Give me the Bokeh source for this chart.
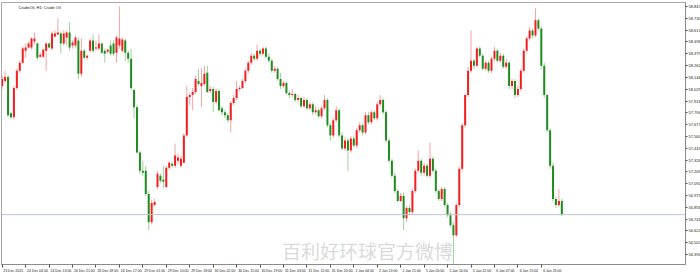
from bokeh.plotting import figure
from bokeh.models import Range1d, FixedTicker, LinearAxis, Span, Label, PrintfTickFormatter
from bokeh.embed import file_html
from bokeh.resources import INLINE

# ---------------- data (CrudeOil H1) ----------------
open_ = [58.06, 58.11, 58.15, 57.79, 57.75, 58.04, 58.21, 58.29, 58.41, 58.44,
         58.44, 58.50, 58.48, 58.35, 58.35, 58.41, 58.48, 58.43, 58.55, 58.57,
         58.58, 58.48, 58.54, 58.59, 58.46, 58.46, 58.51, 58.18, 58.41, 58.34,
         58.41, 58.51, 58.43, 58.43, 58.48, 58.41, 58.40, 58.46, 58.48, 58.39,
         58.46, 58.41, 58.51, 58.39, 58.33, 58.02, 57.85, 57.40, 57.22, 57.22,
         56.99, 56.71, 56.88, 57.06, 57.17, 57.13, 57.06, 57.25, 57.29, 57.27,
         57.32, 57.27, 57.30, 57.57, 57.95, 57.97, 58.00, 58.11, 58.06, 58.08,
         58.19, 58.01, 58.03, 57.90, 58.01, 57.84, 57.80, 57.77, 57.72, 57.89,
         57.94, 58.03,
         58.04, 58.11, 58.21, 58.29, 58.36, 58.33, 58.41, 58.38, 58.43, 58.35,
         58.31, 58.21, 58.23, 58.13, 58.06, 58.09, 57.99, 57.97, 57.98, 57.92,
         57.94, 57.86, 57.92, 57.84, 57.88, 57.80, 57.82, 57.76, 57.84, 57.92,
         57.67, 57.57, 57.72, 57.82, 57.57, 57.44, 57.52, 57.42, 57.54, 57.47,
         57.62, 57.67, 57.60, 57.77, 57.70, 57.80, 57.74, 57.88, 57.92, 57.80,
         57.52, 57.32, 57.17, 57.02, 56.92, 56.97, 56.75, 56.85, 56.81, 57.02,
         57.22, 57.32, 57.20, 57.27, 57.17, 57.34, 57.22, 57.02, 56.94, 57.04,
         56.88, 56.78, 56.68, 56.58, 56.88, 57.24, 57.67, 57.97, 58.21, 58.31,
         58.26, 58.43, 58.36, 58.23, 58.29, 58.21, 58.33, 58.41, 58.31, 58.36,
         58.25, 58.29, 58.06, 58.11, 57.97, 58.03, 58.21, 58.41, 58.53, 58.61,
         58.56, 58.71, 58.63, 58.26, 57.97, 57.62, 57.27, 56.94, 56.88, 56.92]

high = [58.16, 58.21, 58.17, 57.80, 58.06, 58.23, 58.31, 58.45, 58.48, 58.50,
        58.54, 58.59, 58.49, 58.39, 58.43, 58.49, 58.49, 58.60, 58.61, 58.73,
        58.60, 58.61, 58.61, 58.69, 58.51, 58.56, 58.54, 58.53, 58.43, 58.37,
        58.53, 58.57, 58.51, 58.57, 58.49, 58.43, 58.43, 58.51, 58.51, 58.56,
        58.85, 58.54, 58.53, 58.41, 58.43, 58.03, 57.87, 57.42, 57.32, 57.27,
        57.02, 56.93, 56.94, 57.22, 57.19, 57.27, 57.27, 57.32, 57.31, 57.49,
        57.39, 57.37, 57.59, 58.06, 57.99, 58.04, 58.16, 58.23, 58.24, 58.26,
        58.26, 58.06, 58.05, 58.03, 58.03, 57.86, 57.82, 57.79, 57.91, 57.97,
        58.11, 58.06,
        58.13, 58.23, 58.31, 58.39, 58.38, 58.47, 58.43, 58.45, 58.45, 58.38,
        58.33, 58.26, 58.25, 58.19, 58.11, 58.11, 58.01, 58.03, 57.99, 57.97,
        57.95, 57.95, 57.94, 57.90, 57.90, 57.86, 57.84, 57.86, 57.97, 57.94,
        57.69, 57.74, 57.86, 57.84, 57.60, 57.55, 57.54, 57.56, 57.57, 57.64,
        57.70, 57.69, 57.80, 57.80, 57.82, 57.82, 57.90, 57.97, 57.94, 57.82,
        57.54, 57.34, 57.20, 57.04, 57.00, 57.00, 56.87, 56.88, 57.04, 57.24,
        57.42, 57.34, 57.30, 57.29, 57.50, 57.36, 57.24, 57.04, 57.06, 57.06,
        56.90, 56.81, 56.71, 56.90, 57.26, 57.69, 57.98, 58.25, 58.61, 58.33,
        58.45, 58.45, 58.38, 58.31, 58.31, 58.35, 58.45, 58.43, 58.39, 58.38,
        58.33, 58.31, 58.13, 58.13, 58.06, 58.23, 58.43, 58.55, 58.65, 58.63,
        58.83, 58.73, 58.65, 58.29, 57.98, 57.64, 57.30, 56.96, 57.04, 56.94]

low = [58.03, 58.09, 57.75, 57.73, 57.73, 58.02, 58.19, 58.28, 58.34, 58.43,
       58.42, 58.47, 58.32, 58.34, 58.34, 58.21, 58.43, 58.41, 58.54, 58.56,
       58.38, 58.46, 58.46, 58.41, 58.43, 58.44, 58.13, 58.15, 58.32, 58.32,
       58.39, 58.39, 58.41, 58.41, 58.38, 58.29, 58.38, 58.36, 58.36, 58.29,
       58.43, 58.39, 58.31, 58.29, 58.02, 57.74, 57.39, 57.19, 57.17, 56.97,
       56.63, 56.69, 56.87, 57.04, 57.10, 57.05, 57.05, 57.23, 57.25, 57.25,
       57.29, 57.25, 57.29, 57.56, 57.87, 57.82, 57.98, 58.06, 57.85, 58.06,
       57.99, 57.99, 57.80, 57.88, 57.81, 57.77, 57.74, 57.70, 57.60, 57.87,
       57.92, 58.01,
       58.03, 58.09, 58.19, 58.27, 58.31, 58.31, 58.35, 58.36, 58.33, 58.29,
       58.19, 58.19, 58.11, 58.03, 58.04, 57.97, 57.94, 57.95, 57.90, 57.90,
       57.84, 57.84, 57.82, 57.82, 57.77, 57.78, 57.74, 57.74, 57.82, 57.65,
       57.52, 57.55, 57.70, 57.55, 57.42, 57.42, 57.22, 57.40, 57.45, 57.45,
       57.60, 57.57, 57.58, 57.68, 57.68, 57.72, 57.72, 57.86, 57.78, 57.50,
       57.30, 57.15, 57.00, 56.91, 56.91, 56.63, 56.71, 56.78, 56.79, 57.00,
       57.20, 57.17, 57.17, 57.15, 57.15, 57.20, 57.00, 56.92, 56.92, 56.86,
       56.76, 56.66, 56.28, 56.56, 56.86, 57.22, 57.65, 57.95, 58.19, 58.23,
       58.25, 58.34, 58.21, 58.21, 58.19, 58.19, 58.31, 58.29, 58.29, 58.23,
       58.23, 58.03, 58.03, 57.94, 57.95, 58.01, 58.19, 58.39, 58.51, 58.53,
       58.54, 58.61, 58.23, 57.94, 57.60, 57.24, 56.92, 56.85, 56.86, 56.77]

close = [58.13, 58.15, 57.77, 57.75, 58.04, 58.21, 58.29, 58.43, 58.44, 58.48,
         58.53, 58.53, 58.34, 58.37, 58.42, 58.48, 58.44, 58.58, 58.58, 58.59,
         58.48, 58.58, 58.59, 58.44, 58.49, 58.54, 58.18, 58.41, 58.34, 58.36,
         58.51, 58.41, 58.44, 58.48, 58.39, 58.38, 58.42, 58.38, 58.38, 58.54,
         58.53, 58.52, 58.39, 58.33, 58.04, 57.85, 57.40, 57.22, 57.20, 56.99,
         56.71, 56.90, 56.91, 57.19, 57.12, 57.11, 57.25, 57.30, 57.27, 57.37,
         57.35, 57.34, 57.57, 57.95, 57.97, 58.00, 58.13, 58.08, 58.09, 58.18,
         58.00, 58.03, 57.90, 58.01, 57.82, 57.80, 57.77, 57.72, 57.89, 57.94,
         58.03, 58.04,
         58.11, 58.21, 58.29, 58.36, 58.33, 58.41, 58.38, 58.43, 58.35, 58.31,
         58.21, 58.23, 58.13, 58.06, 58.09, 57.99, 57.97, 57.98, 57.92, 57.94,
         57.86, 57.92, 57.84, 57.88, 57.80, 57.82, 57.76, 57.84, 57.92, 57.67,
         57.57, 57.72, 57.82, 57.57, 57.44, 57.52, 57.42, 57.54, 57.47, 57.62,
         57.67, 57.60, 57.77, 57.70, 57.80, 57.74, 57.88, 57.92, 57.80, 57.52,
         57.32, 57.17, 57.02, 56.92, 56.97, 56.75, 56.85, 56.81, 57.02, 57.22,
         57.32, 57.20, 57.27, 57.17, 57.34, 57.22, 57.02, 56.94, 57.04, 56.88,
         56.78, 56.68, 56.58, 56.88, 57.24, 57.67, 57.97, 58.21, 58.31, 58.26,
         58.43, 58.36, 58.23, 58.29, 58.21, 58.33, 58.41, 58.31, 58.36, 58.25,
         58.29, 58.06, 58.11, 57.97, 58.03, 58.21, 58.41, 58.53, 58.61, 58.56,
         58.71, 58.63, 58.26, 57.97, 57.62, 57.27, 56.94, 56.88, 56.92, 56.79]

time_labels = ["23 Dec 2025", "24 Dec 04:00", "24 Dec 13:00", "24 Dec 21:00",
               "26 Dec 09:00", "26 Dec 17:00", "29 Dec 01:00", "29 Dec 10:00",
               "29 Dec 18:00", "30 Dec 02:00", "30 Dec 11:00", "30 Dec 19:00",
               "31 Dec 03:00", "31 Dec 12:00", "31 Dec 20:00", "2 Jan 04:00",
               "2 Jan 13:00", "2 Jan 21:00", "5 Jan 05:00", "5 Jan 14:00",
               "5 Jan 22:00", "6 Jan 07:00", "6 Jan 15:00", "6 Jan 23:00"]
time_label_bars = [0, 8, 16, 24, 32, 40, 48, 56, 64, 72, 80, 88,
                   96, 104, 112, 120, 128, 136, 144, 152, 160, 168, 176, 184]

price_ticks = [58.847, 58.730, 58.613, 58.496, 58.379, 58.262, 58.146, 58.029,
               57.911, 57.794, 57.677, 57.560, 57.443, 57.326, 57.209, 57.092,
               56.975, 56.858, 56.741, 56.624, 56.507, 56.390]
current_price = 56.785
chart_title = "CrudeOil, H1: Crude Oil"
watermark_text = "百利好环球官方微博"

# ---------------- styling ----------------
UP_BODY, DN_BODY = "#f51d1d", "#1f8c1f"
UP_WICK, DN_WICK = "#f7a3a3", "#9fd09f"
PX_PER_BAR = 2.93
FRAME_W, FRAME_H = 684, 262

n = len(close)
idx = list(range(n))
is_up = [c >= o for o, c in zip(open_, close)]
tops = [max(o, c) for o, c in zip(open_, close)]
bots = [min(o, c) for o, c in zip(open_, close)]
body_col = [UP_BODY if u else DN_BODY for u in is_up]
wick_col = [UP_WICK if u else DN_WICK for u in is_up]

x_start = -0.24
x_end = x_start + FRAME_W / PX_PER_BAR
y_lo, y_hi = 56.291, 58.887

p = figure(frame_width=FRAME_W, frame_height=FRAME_H,
           output_backend="svg", toolbar_location=None,
           x_range=Range1d(x_start, x_end), y_range=Range1d(y_lo, y_hi),
           x_axis_location=None, y_axis_location=None,
           min_border_left=1, min_border_right=15, min_border_top=2, min_border_bottom=10,
           background_fill_color="white", border_fill_color="white")
p.grid.visible = False
p.outline_line_color = "#a8a8a8"
p.outline_line_width = 1

# watermark (behind candles)
p.add_layout(Label(x=95.5, y=y_lo, y_offset=1, text=watermark_text,
                   text_font="Noto Sans CJK SC", text_font_size="19px",
                   text_color="#cfcfcf", text_alpha=0.8, text_baseline="bottom",
                   text_align="left", level="underlay"))

p.segment(x0=idx, y0=low, x1=idx, y1=high, line_color=wick_col, line_width=1)
p.vbar(x=idx, width=0.68, top=tops, bottom=bots, fill_color=body_col, line_color=None)

p.add_layout(Span(location=current_price, dimension="width",
                  line_color="#b9c3d1", line_width=1))

# right price axis
yax = LinearAxis(ticker=FixedTicker(ticks=price_ticks, minor_ticks=[]),
                 formatter=PrintfTickFormatter(format="%.3f"))
yax.axis_line_color = "#8c8c8c"
yax.major_tick_out = 2
yax.major_tick_in = 0
yax.major_tick_line_color = "#555555"
yax.minor_tick_out = 0
yax.major_label_standoff = 1
yax.major_label_text_font = "Liberation Sans"
yax.major_label_text_font_size = "4px"
yax.major_label_text_color = "#222222"
p.add_layout(yax, "right")

# bottom time axis: labels start right of their tick, as in MT4
centers = [b + (1.5 + 0.86 * len(t)) / PX_PER_BAR for b, t in zip(time_label_bars, time_labels)]
xax = LinearAxis(ticker=FixedTicker(ticks=centers, minor_ticks=time_label_bars))
xax.major_label_overrides = {c: t for c, t in zip(centers, time_labels)}
xax.axis_line_color = "#8c8c8c"
xax.major_tick_out = 0
xax.major_tick_in = 0
xax.minor_tick_out = 3
xax.minor_tick_in = 0
xax.minor_tick_line_color = "#555555"
xax.major_label_standoff = 1
xax.major_label_text_font = "Liberation Sans"
xax.major_label_text_font_size = "3.5px"
xax.major_label_text_color = "#222222"
p.add_layout(xax, "below")

# current price box on the price scale
p.add_layout(Label(x=x_end, y=current_price, x_offset=2, text=f"{current_price:.3f}",
                   text_font="Liberation Sans", text_font_size="4px", text_color="white",
                   text_baseline="middle", text_align="left",
                   background_fill_color="#9fb1cf", level="overlay"))

# chart title at top-left
p.add_layout(Label(x=x_start, y=y_hi, x_offset=17, y_offset=-2, text=chart_title,
                   text_font="Liberation Sans", text_font_size="4px", text_color="#111111",
                   text_baseline="top", text_align="left"))

open("out.html", "w").write(file_html(p, INLINE))
